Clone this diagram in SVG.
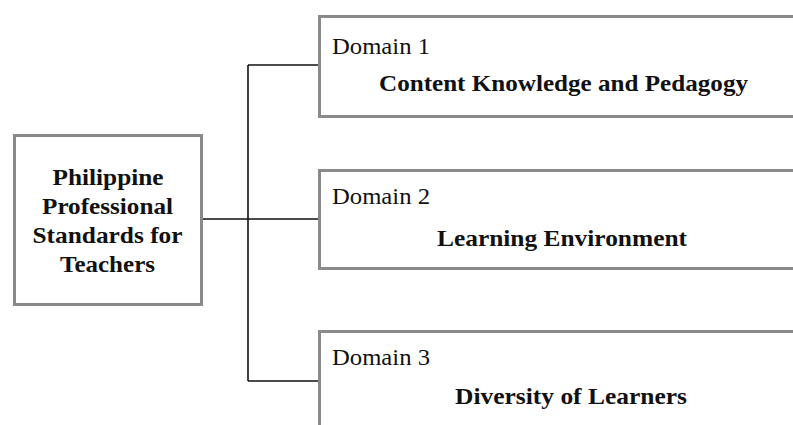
<svg xmlns="http://www.w3.org/2000/svg" width="793" height="425" viewBox="0 0 793 425">
  <style>
    .box { fill: #ffffff; stroke: #8a8a8a; stroke-width: 3; }
    .link { fill: none; stroke: #111111; stroke-width: 1.6; }
    .label { font-family: "Liberation Serif", "Times New Roman", serif; font-size: 22.5px; fill: #111111; }
    .title { font-family: "Liberation Serif", "Times New Roman", serif; font-size: 23px; font-weight: bold; fill: #111111; text-anchor: middle; }
  </style>
  <rect width="793" height="425" fill="#ffffff"/>

  <g id="connectors">
    <line class="link" x1="202" y1="219" x2="318" y2="219"/>
    <line class="link" x1="248" y1="65" x2="248" y2="381"/>
    <line class="link" x1="248" y1="65" x2="318" y2="65"/>
    <line class="link" x1="248" y1="381" x2="318" y2="381"/>
  </g>

  <g id="pps-teachers">
    <rect class="box" x="14.5" y="135.5" width="187" height="169"/>
    <text class="title" x="108" y="185" textLength="111" lengthAdjust="spacingAndGlyphs">Philippine</text>
    <text class="title" x="107.5" y="214" textLength="131" lengthAdjust="spacingAndGlyphs">Professional</text>
    <text class="title" x="107.5" y="243" textLength="150" lengthAdjust="spacingAndGlyphs">Standards for</text>
    <text class="title" x="107.5" y="272" textLength="95" lengthAdjust="spacingAndGlyphs">Teachers</text>
  </g>

  <g id="domain-1">
    <rect class="box" x="319.5" y="16.5" width="490" height="100"/>
    <text class="label" x="332" y="54" textLength="98" lengthAdjust="spacingAndGlyphs">Domain 1</text>
    <text class="title" x="563.5" y="91" textLength="369" lengthAdjust="spacingAndGlyphs">Content Knowledge and Pedagogy</text>
  </g>

  <g id="domain-2">
    <rect class="box" x="319.5" y="170.5" width="490" height="98"/>
    <text class="label" x="332" y="204" textLength="98" lengthAdjust="spacingAndGlyphs">Domain 2</text>
    <text class="title" x="562" y="246" textLength="250" lengthAdjust="spacingAndGlyphs">Learning Environment</text>
  </g>

  <g id="domain-3">
    <rect class="box" x="319.5" y="331.5" width="490" height="110"/>
    <text class="label" x="332" y="365" textLength="98" lengthAdjust="spacingAndGlyphs">Domain 3</text>
    <text class="title" x="571" y="404" textLength="232" lengthAdjust="spacingAndGlyphs">Diversity of Learners</text>
  </g>
</svg>
